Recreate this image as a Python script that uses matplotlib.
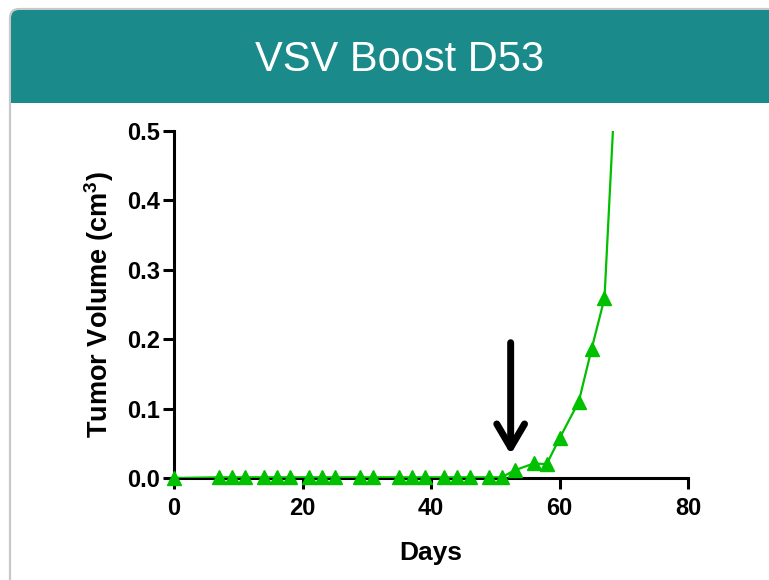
import numpy as np
import matplotlib
matplotlib.use("Agg")
import matplotlib.pyplot as plt
from matplotlib.patches import FancyBboxPatch, Rectangle

plt.rcParams['font.family'] = ['Liberation Sans', 'DejaVu Sans']
plt.rcParams['mathtext.fontset'] = 'custom'
plt.rcParams['mathtext.bf'] = 'Liberation Sans:bold'
plt.rcParams['mathtext.rm'] = 'Liberation Sans:bold'

# data
days = [0, 7, 9, 11, 14, 16, 18, 21, 23, 25, 29, 31, 35, 37, 39, 42, 44, 46, 49, 51,
        53, 56, 58, 60, 63, 65, 67, 70]
volume = [0.0, 0.001, 0.001, 0.001, 0.001, 0.001, 0.001, 0.001, 0.001, 0.001, 0.001,
          0.001, 0.001, 0.001, 0.001, 0.001, 0.001, 0.001, 0.001, 0.001,
          0.011, 0.021, 0.020, 0.057, 0.110, 0.186, 0.259, 0.81]
boost_day = 52.4
title = "VSV Boost D53"
xticks = [0, 20, 40, 60, 80]
yticks = [0.0, 0.1, 0.2, 0.3, 0.4, 0.5]

W, H = 769, 580
fig = plt.figure(figsize=(W / 100, H / 100), dpi=100)

# card background in pixel coordinates
bg = fig.add_axes([0, 0, 1, 1], zorder=0)
bg.set_xlim(0, W)
bg.set_ylim(H, 0)
bg.axis('off')
teal = '#1b8a8a'
bg.add_patch(FancyBboxPatch((10, 9), 820, 580, boxstyle="round,pad=0,rounding_size=9",
                            facecolor='white', edgecolor='#c8c8c8', lw=1.6))
bg.add_patch(FancyBboxPatch((11, 10), 820, 93, boxstyle="round,pad=0,rounding_size=8",
                            facecolor=teal, edgecolor='none'))
bg.add_patch(Rectangle((11, 80), 820, 23, facecolor=teal, edgecolor='none'))
bg.text(400, 60, title, color='white', fontsize=30, ha='center', va='center')

ax = fig.add_axes([174 / W, 1 - 478 / H, (688 - 174) / W, (478 - 131) / H], zorder=1)
ax.patch.set_alpha(0)
green = '#00c000'
ax.set_xlim(0, 80)
ax.set_ylim(0, 0.5)
ax.plot(days, volume, color=green, lw=1.6, zorder=3)
shown = [i for i, v in enumerate(volume) if v <= 0.5]
ax.plot([days[i] for i in shown], [volume[i] for i in shown], ls='none', marker='^',
        markersize=10, color=green, clip_on=False, zorder=4)
ax.set_xticks(xticks)
ax.set_yticks(yticks)
ax.set_xticklabels([str(t) for t in xticks], fontweight='bold', fontsize=17)
ax.set_yticklabels([f"{t:.1f}" for t in yticks], fontweight='bold', fontsize=17)
for s in ['top', 'right']:
    ax.spines[s].set_visible(False)
for s in ['left', 'bottom']:
    ax.spines[s].set_linewidth(2.2)
ax.tick_params(width=2.2, length=8, direction='out')
ax.tick_params(axis='x', pad=6)
ax.tick_params(axis='y', pad=2)
ax.set_xlabel('Days', fontweight='bold', fontsize=19, labelpad=15)
ax.set_ylabel(r'Tumor Volume (cm$^{\mathbf{3}}$)', fontweight='bold', fontsize=19.5,
              labelpad=8)

ax.annotate('', xy=(boost_day, 0.034), xytext=(boost_day, 0.195),
            arrowprops=dict(arrowstyle='->,head_length=1.7,head_width=1.0', lw=5,
                            color='black', shrinkA=0, shrinkB=0))

fig.savefig('out.png', dpi=100)
